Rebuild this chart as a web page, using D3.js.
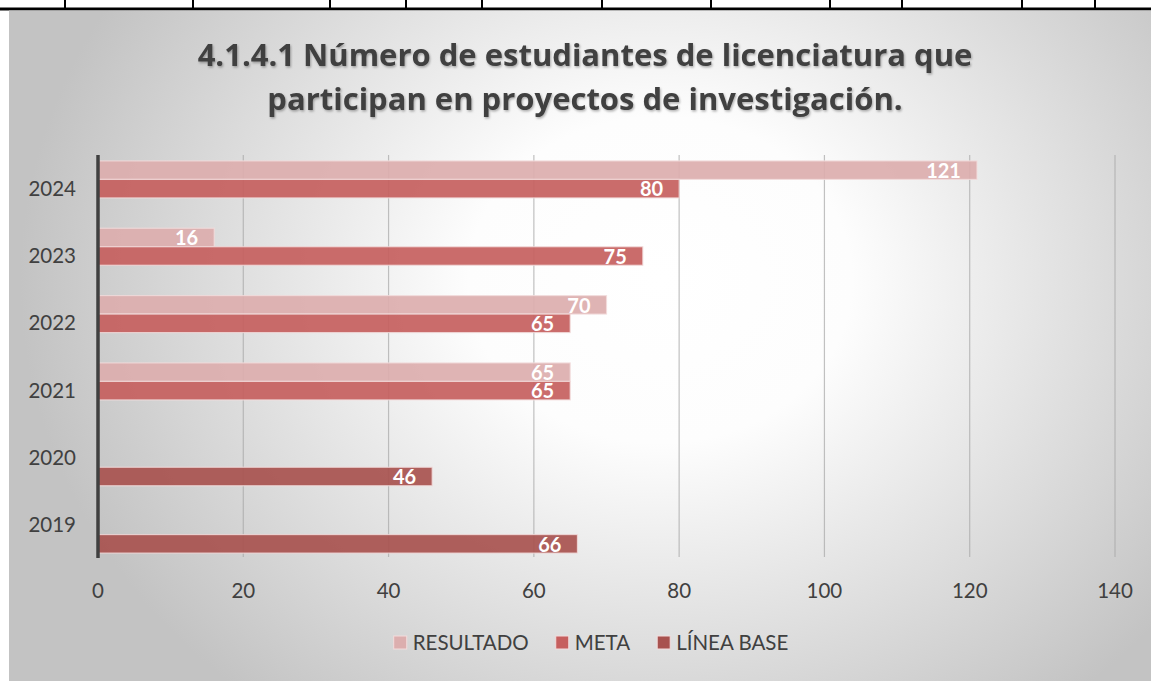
<!DOCTYPE html>
<head>
  <meta charset="utf-8">
  <script src="https://unpkg.com/d3@7/dist/d3.min.js"></script>
  <style>
    body { margin:0; background:#fff; }
    text { font-family: Lato, "Open Sans", sans-serif; }
  </style>
</head>
<body>
  <svg width="1151" height="681"></svg>
  <script>
    // data
    var years = ["2019", "2020", "2021", "2022", "2023", "2024"];
    var resultado = [null, null, 65, 70, 16, 121];
    var meta = [null, null, 65, 65, 75, 80];
    var lineaBase = [66, 46, null, null, null, null];
    var seriesNames = ["RESULTADO", "META", "LÍNEA BASE"];
    var seriesColors = ["#dcaeae", "#c65f5e", "#a8524f"];
    var xTicks = [0, 20, 40, 60, 80, 100, 120, 140];
    var titleLines = ["4.1.4.1 Número de estudiantes de licenciatura que",
                      "participan en proyectos de investigación."];
    var tableCols = [65, 193, 330, 406, 482, 602, 711, 830, 902, 1022, 1095];

    var svg = d3.select("svg"),
        W = +svg.attr("width"),
        H = +svg.attr("height");

    var defs = svg.append("defs");
    var grad = defs.append("radialGradient")
      .attr("id", "bg")
      .attr("gradientUnits", "userSpaceOnUse")
      .attr("cx", 660).attr("cy", 280).attr("r", 640)
      .attr("gradientTransform", "translate(660,280) scale(1,0.85) translate(-660,-280)");
    grad.append("stop").attr("offset", 0).attr("stop-color", "#ffffff");
    grad.append("stop").attr("offset", 0.3).attr("stop-color", "#fdfdfd");
    grad.append("stop").attr("offset", 1).attr("stop-color", "#c3c3c3");

    var shadow = defs.append("filter").attr("id", "shadow");
    shadow.append("feDropShadow")
      .attr("dx", 1).attr("dy", 1.5).attr("stdDeviation", 1)
      .attr("flood-color", "#000").attr("flood-opacity", 0.3);

    // table border above chart
    svg.append("line")
      .attr("x1", 0).attr("x2", W).attr("y1", 9).attr("y2", 9)
      .attr("stroke", "#000").attr("stroke-width", 3);
    svg.selectAll(".tcol").data(tableCols).enter().append("line")
      .attr("x1", function (d) { return d; }).attr("x2", function (d) { return d; })
      .attr("y1", 0).attr("y2", 9)
      .attr("stroke", "#000").attr("stroke-width", 2);

    // chart area
    svg.append("rect")
      .attr("x", 9).attr("y", 10.5)
      .attr("width", W - 9).attr("height", H - 10.5)
      .attr("fill", "url(#bg)");

    // title
    svg.append("g").attr("filter", "url(#shadow)")
      .selectAll("text").data(titleLines).enter().append("text")
      .attr("x", 585)
      .attr("y", function (d, i) { return 66 + i * 44; })
      .attr("text-anchor", "middle")
      .style("font-family", "'Open Sans', sans-serif")
      .attr("font-size", 31)
      .attr("font-weight", "bold")
      .attr("fill", "#404040")
      .text(function (d) { return d; });

    var x = d3.scaleLinear().domain([0, 140]).range([98, 1115]);
    var y = d3.scaleBand().domain(years.slice().reverse()).range([155, 559]);
    var ySub = d3.scaleBand().domain(seriesNames)
      .range([0, y.bandwidth()]).paddingInner(0).paddingOuter(0.32);

    // gridlines
    svg.append("g").selectAll("line").data(xTicks.slice(1)).enter().append("line")
      .attr("x1", function (d) { return x(d); }).attr("x2", function (d) { return x(d); })
      .attr("y1", 155).attr("y2", 557)
      .attr("stroke", "#a6a6a6").attr("stroke-opacity", 0.7).attr("stroke-width", 1.2);

    // bars
    var seriesValues = [resultado, meta, lineaBase];
    var barData = [];
    seriesValues.forEach(function (vals, s) {
      vals.forEach(function (v, i) {
        if (v != null) barData.push({ year: years[i], s: s, v: v });
      });
    });

    svg.append("g").selectAll("rect").data(barData).enter().append("rect")
      .attr("x", x(0))
      .attr("y", function (d) { return y(d.year) + ySub(seriesNames[d.s]); })
      .attr("width", function (d) { return x(d.v) - x(0); })
      .attr("height", ySub.bandwidth())
      .attr("fill", function (d) { return seriesColors[d.s]; })
      .attr("fill-opacity", 0.92)
      .attr("stroke", "#f3dcdc")
      .attr("stroke-opacity", 0.8)
      .attr("stroke-width", 1.2);

    svg.append("g").selectAll("text").data(barData).enter().append("text")
      .attr("x", function (d) { return x(d.v) - 16; })
      .attr("y", function (d) { return y(d.year) + ySub(seriesNames[d.s]) + ySub.bandwidth() - 1.5; })
      .attr("text-anchor", "end")
      .attr("font-size", 20)
      .attr("font-weight", "bold")
      .attr("fill", "#fff")
      .text(function (d) { return d.v; });

    // y axis line
    svg.append("line")
      .attr("x1", x(0)).attr("x2", x(0)).attr("y1", 155).attr("y2", 558)
      .attr("stroke", "#404040").attr("stroke-width", 3.5);

    // y labels
    svg.append("g").selectAll("text").data(years).enter().append("text")
      .attr("x", 76)
      .attr("y", function (d) { return y(d) + y.bandwidth() / 2 + 7; })
      .attr("text-anchor", "end")
      .attr("font-size", 20.5)
      .attr("fill", "#404040")
      .text(function (d) { return d; });

    // x labels
    svg.append("g").selectAll("text").data(xTicks).enter().append("text")
      .attr("x", function (d) { return x(d); })
      .attr("y", 598)
      .attr("text-anchor", "middle")
      .attr("font-size", 20.5)
      .attr("fill", "#404040")
      .text(function (d) { return d; });

    // legend
    var legend = svg.append("g");
    var items = legend.selectAll("g").data(seriesNames).enter().append("g");
    items.append("rect")
      .attr("width", 13).attr("height", 13).attr("y", 636)
      .attr("fill", function (d, i) { return seriesColors[i]; })
      .attr("stroke", "#f3dcdc").attr("stroke-width", 1);
    items.append("text")
      .attr("x", 19).attr("y", 650)
      .attr("font-size", 20.5)
      .attr("fill", "#404040")
      .text(function (d) { return d; });
    var pos = 0, offsets = [];
    items.each(function () {
      offsets.push(pos);
      pos += 19 + d3.select(this).select("text").node().getComputedTextLength() + 27;
    });
    var start = 591 - (pos - 27) / 2;
    items.attr("transform", function (d, i) { return "translate(" + (start + offsets[i]) + ",0)"; });
  </script>
</body>
